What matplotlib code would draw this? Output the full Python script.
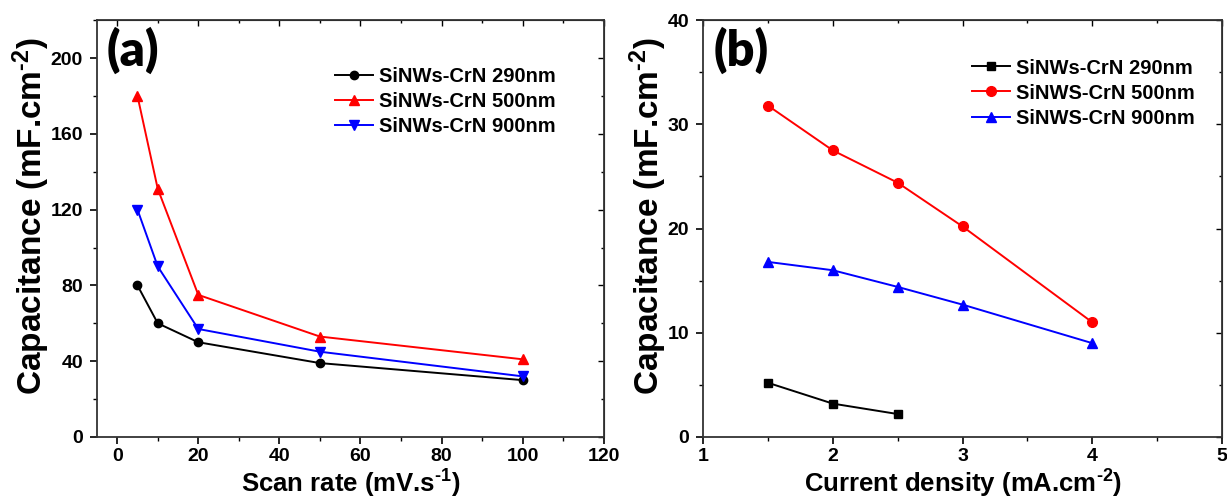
import matplotlib
matplotlib.use("Agg")
import matplotlib.pyplot as plt
from matplotlib.ticker import MultipleLocator

plt.rcParams['font.family'] = ['Liberation Sans', 'DejaVu Sans']
plt.rcParams['font.weight'] = 'bold'
plt.rcParams['mathtext.fontset'] = 'custom'
plt.rcParams['mathtext.bf'] = 'Liberation Sans:bold'
plt.rcParams['mathtext.rm'] = 'Liberation Sans:bold'
plt.rcParams['mathtext.default'] = 'bf'

# (a) capacitance vs scan rate
scan_rate = [5, 10, 20, 50, 100]
cap_a_290 = [80, 60, 50, 39, 30]
cap_a_500 = [180, 131, 75, 53, 41]
cap_a_900 = [120, 90, 57, 45, 32]

# (b) capacitance vs current density
current_290 = [1.5, 2, 2.5]
cap_b_290 = [5.2, 3.2, 2.2]
current = [1.5, 2, 2.5, 3, 4]
cap_b_500 = [31.8, 27.5, 24.4, 20.2, 11.0]
cap_b_900 = [16.8, 16.0, 14.4, 12.7, 9.0]

fig = plt.figure(figsize=(12.27, 5.04), dpi=100)
ax1 = fig.add_axes([0.079, 0.133, 0.413, 0.827])
ax2 = fig.add_axes([0.573, 0.133, 0.423, 0.827])


def style_axes(ax, xmaj, xmin, ymaj, ymin):
    ax.xaxis.set_major_locator(MultipleLocator(xmaj))
    ax.xaxis.set_minor_locator(MultipleLocator(xmin))
    ax.yaxis.set_major_locator(MultipleLocator(ymaj))
    ax.yaxis.set_minor_locator(MultipleLocator(ymin))
    ax.tick_params(which='major', direction='out', length=5, width=1.2,
                   labelsize=14, pad=5)
    ax.tick_params(axis='x', which='major', pad=3)
    ax.tick_params(which='minor', direction='out', length=3, width=1.0)
    for s in ax.spines.values():
        s.set_linewidth(1.3)
        s.set_color('#333333')
    # mirrored inward ticks on top and right
    top = ax.secondary_xaxis('top')
    top.xaxis.set_major_locator(MultipleLocator(xmaj))
    top.xaxis.set_minor_locator(MultipleLocator(xmin))
    top.tick_params(which='both', direction='in', labeltop=False, width=1.0)
    top.tick_params(which='major', length=4)
    top.tick_params(which='minor', length=2.5)
    right = ax.secondary_yaxis('right')
    right.yaxis.set_major_locator(MultipleLocator(ymaj))
    right.yaxis.set_minor_locator(MultipleLocator(ymin))
    right.tick_params(which='both', direction='in', labelright=False, width=1.0)
    right.tick_params(which='major', length=4)
    right.tick_params(which='minor', length=2.5)
    for t in ax.get_xticklabels() + ax.get_yticklabels():
        t.set_fontweight('bold')


leg_kw = dict(loc='upper left', frameon=False, prop={'size': 14.5, 'weight': 'bold'},
              handlelength=1.9, handletextpad=0.3, labelspacing=0.3,
              borderpad=0, borderaxespad=0)
ylab = 'Capacitance (mF.cm$^{\u20102}$)'

ax1.plot(scan_rate, cap_a_290, '-o', color='black', ms=6, lw=1.4, label='SiNWs-CrN 290nm')
ax1.plot(scan_rate, cap_a_500, '-^', color='#ff0000', ms=7, lw=1.4, label='SiNWs-CrN 500nm')
ax1.plot(scan_rate, cap_a_900, '-v', color='#0000ff', ms=7, lw=1.4, label='SiNWs-CrN 900nm')
ax1.set_xlim(-5, 120)
ax1.set_ylim(0, 220)
style_axes(ax1, 20, 10, 40, 20)
ax1.set_xlabel('Scan rate (mV.s$^{\u20101}$)', fontsize=18.5, fontweight='bold', labelpad=2)
ax1.set_ylabel(ylab, fontsize=24, fontweight='bold')
ax1.yaxis.set_label_coords(-0.088, 0.53)
ax1.text(0.02, 0.985, '(a)', transform=ax1.transAxes, fontsize=35, fontweight='heavy',
         family=['Lato', 'DejaVu Sans'], va='top', ha='left')
ax1.legend(bbox_to_anchor=(0.469, 0.888), **leg_kw)

ax2.plot(current_290, cap_b_290, '-s', color='black', ms=6, lw=1.4, label='SiNWs-CrN 290nm')
ax2.plot(current, cap_b_500, '-o', color='#ff0000', ms=7, lw=1.4, label='SiNWS-CrN 500nm')
ax2.plot(current, cap_b_900, '-^', color='#0000ff', ms=7, lw=1.4, label='SiNWS-CrN 900nm')
ax2.set_xlim(1, 5)
ax2.set_ylim(0, 40)
style_axes(ax2, 1, 0.5, 10, 5)
ax2.set_xlabel('Current density (mA.cm$^{\u20102}$)', fontsize=18.5, fontweight='bold', labelpad=2)
ax2.set_ylabel(ylab, fontsize=24, fontweight='bold')
ax2.yaxis.set_label_coords(-0.065, 0.53)
ax2.text(0.02, 0.985, '(b)', transform=ax2.transAxes, fontsize=35, fontweight='heavy',
         family=['Lato', 'DejaVu Sans'], va='top', ha='left')
ax2.legend(bbox_to_anchor=(0.518, 0.908), **leg_kw)

fig.savefig('out.png', dpi=100)
